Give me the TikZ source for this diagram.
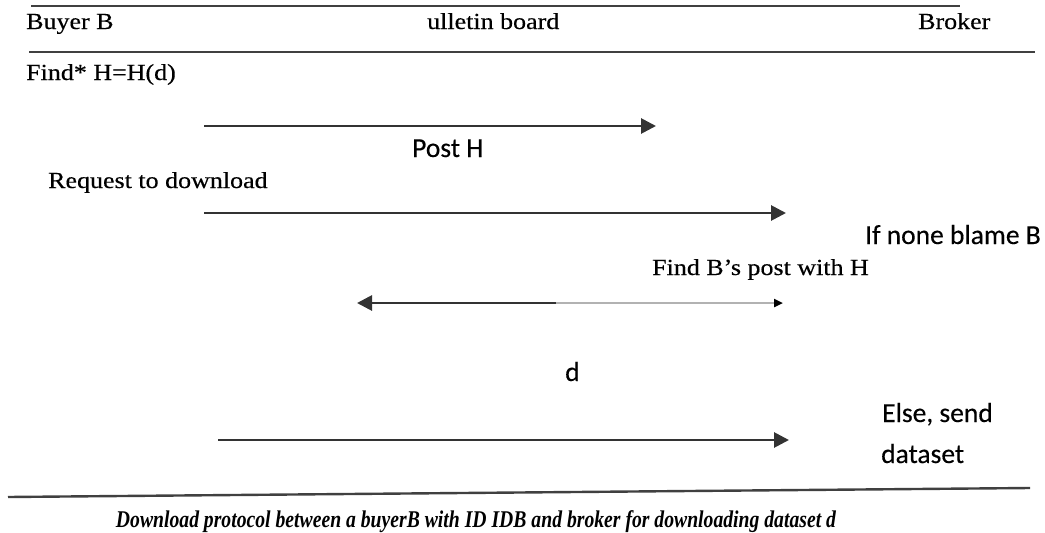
\documentclass[tikz,border=0pt]{standalone}
\usepackage{fontspec}
\setmainfont{Liberation Serif}
\newfontfamily\camfont[FakeStretch=1.13,FakeBold=0.4]{Liberation Serif}
\newfontfamily\calfont[FakeBold=0.3]{Carlito}
\newfontfamily\capfont[FakeStretch=0.82]{Liberation Serif}
\usetikzlibrary{arrows.meta}
\begin{document}
\begin{tikzpicture}[x=1pt,y=-1pt,
  serlab/.style={anchor=base west,inner sep=0pt,font=\camfont\fontsize{23}{27}\selectfont},
  sanlab/.style={anchor=base west,inner sep=0pt,font=\calfont\fontsize{27.5}{32}\selectfont},
  rule/.style={draw=black!75,line width=2.4pt},
  msg/.style={draw=black!80,line width=2.8pt,-{Triangle[length=15pt,width=15pt]}},
]
\useasboundingbox (0,0) rectangle (1045,533);
% header rules
\coordinate (t1) at (31,6);  \coordinate (t2) at (960,6);
\coordinate (h1) at (29,52); \coordinate (h2) at (1035,52);
\draw[rule] (t1) -- (t2);
\draw[rule] (h1) -- (h2);
% header labels
\node[serlab] (buyer) at (26,29) {Buyer B};
\node[serlab] (board) at (427,29) {ulletin board};
\node[serlab] (broker) at (918,29) {Broker};
% texts
\node[serlab] (find) at (26,80) {Find* H=H(d)};
\node[sanlab] (post) at (412,157) {Post H};
\node[serlab] (req) at (48,188) {Request to download};
\node[sanlab] (none) at (865,244) {If none blame B};
\node[serlab] (findb) at (652,275) {Find B’s post with H};
\node[sanlab] (d) at (565,381) {d};
\node[sanlab] (else) at (882,422) {Else, send};
\node[sanlab] (ds) at (881,463) {dataset};
% messages
\coordinate (a1s) at (204,126); \coordinate (a1e) at (656,126);
\coordinate (a2s) at (204,213); \coordinate (a2e) at (786,213);
\coordinate (a3r) at (783,303); \coordinate (a3m) at (556,303); \coordinate (a3l) at (357,303);
\coordinate (a4s) at (218,440); \coordinate (a4e) at (789,440);
\draw[msg] (a1s) -- (a1e);
\draw[msg] (a2s) -- (a2e);
\draw[draw=black!30,line width=2.6pt,-{Triangle[length=9pt,width=8pt,color=black]}] (a3m) -- (a3r);
\draw[msg] (a3m) -- (a3l);
\draw[msg] (a4s) -- (a4e);
% bottom rule and caption
\coordinate (b1) at (8,497); \coordinate (b2) at (1030,488);
\draw[rule] (b1) -- (b2);
\node[anchor=base,inner sep=0pt,font=\capfont\bfseries\itshape\fontsize{24}{28}\selectfont] (cap) at (476,527) {Download protocol between a buyerB with ID IDB and broker for downloading dataset d};
\end{tikzpicture}
\end{document}
